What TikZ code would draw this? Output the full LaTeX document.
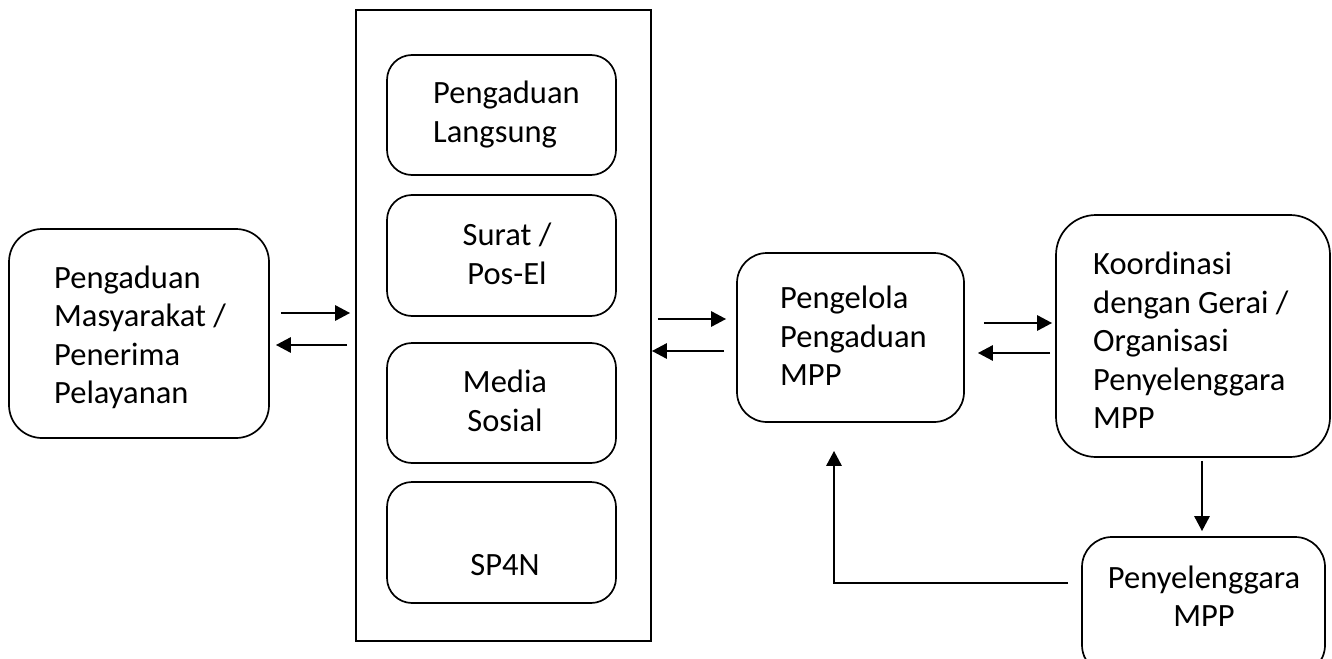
\documentclass[tikz,border=0pt]{standalone}
\usepackage{fontspec}
\setmainfont{Carlito}
\usetikzlibrary{arrows.meta,calc}
\begin{document}
\begin{tikzpicture}[x=1pt,y=-1pt,
  box/.style={draw,line width=1.7pt,inner sep=0pt,rounded corners=#1},
  box/.default=28pt,
  frame/.style={draw,line width=1.7pt,inner sep=0pt},
  txt/.style={inner sep=0pt,font=\fontsize{32.5}{38.5}\selectfont},
  arr/.style={line width=2.8pt,-{Triangle[length=15pt,width=15pt]}}]
\useasboundingbox (0,0) rectangle (1332,658);
\clip (0,0) rectangle (1332,658);

% boxes
\node[box=33pt,minimum width=260pt,minimum height=209pt] (src) at (139,333.5) {};
\node[frame,minimum width=295pt,minimum height=631pt] (ch) at (503.5,325.5) {};
\node[box=25pt,minimum width=229pt,minimum height=120pt] (langsung) at (501.5,115) {};
\node[box=25pt,minimum width=229pt,minimum height=121pt] (surat) at (501.5,255.5) {};
\node[box=25pt,minimum width=229pt,minimum height=120pt] (media) at (501.5,403) {};
\node[box=25pt,minimum width=229pt,minimum height=121pt] (sp4n) at (501.5,542.5) {};
\node[box=30pt,minimum width=227pt,minimum height=169pt] (peng) at (850.5,337.5) {};
\node[box=40pt,minimum width=274pt,minimum height=242pt] (koord) at (1193,336) {};
\node[box=30pt,minimum width=243pt,minimum height=138pt] (pen) at (1203.5,606) {};

% texts
\node[txt,anchor=west,align=left] (tsrc) at (54,337.5) {Pengaduan\\Masyarakat /\\Penerima\\Pelayanan};
\node[txt,anchor=west,align=left] (tlangsung) at (433,114.5) {Pengaduan\\Langsung};
\node[txt,align=center] (tsurat) at (507,254) {Surat /\\Pos-El};
\node[txt,align=center] (tmedia) at (505,401) {Media\\Sosial};
\node[txt] (tsp4n) at (505,565) {SP4N};
\node[txt,anchor=west,align=left] (tpeng) at (780,336) {Pengelola\\Pengaduan\\MPP};
\node[txt,anchor=west,align=left] (tkoord) at (1093,340.5) {Koordinasi\\dengan Gerai /\\Organisasi\\Penyelenggara\\MPP};
\node[txt,align=center] (tpen) at (1204,596) {Penyelenggara\\MPP};

% connectors
\draw[arr] ($(src.east)+(11,-20.5)$) -- ($(ch.west)+(-5,-12.5)$);
\draw[arr] ($(ch.west)+(-8,19.5)$) -- ($(src.east)+(6,11.5)$);
\draw[arr] ($(ch.east)+(6,-6.5)$) -- ($(peng.west)+(-10,-18.5)$);
\draw[arr] ($(peng.west)+(-12,13.5)$) -- ($(ch.east)+(0,25.5)$);
\draw[arr] ($(peng.east)+(19,-14.5)$) -- ($(koord.west)+(-3,-13)$);
\draw[arr] ($(koord.west)+(-5,17)$) -- ($(peng.east)+(13,15.5)$);
\draw[arr] ($(koord.south)+(9,3)$) -- ($(pen.north)+(-1.5,-5)$);
\draw[arr] ($(pen.west)+(-13,-23)$) -| ($(peng.south)+(-16.5,28)$);
\end{tikzpicture}
\end{document}
